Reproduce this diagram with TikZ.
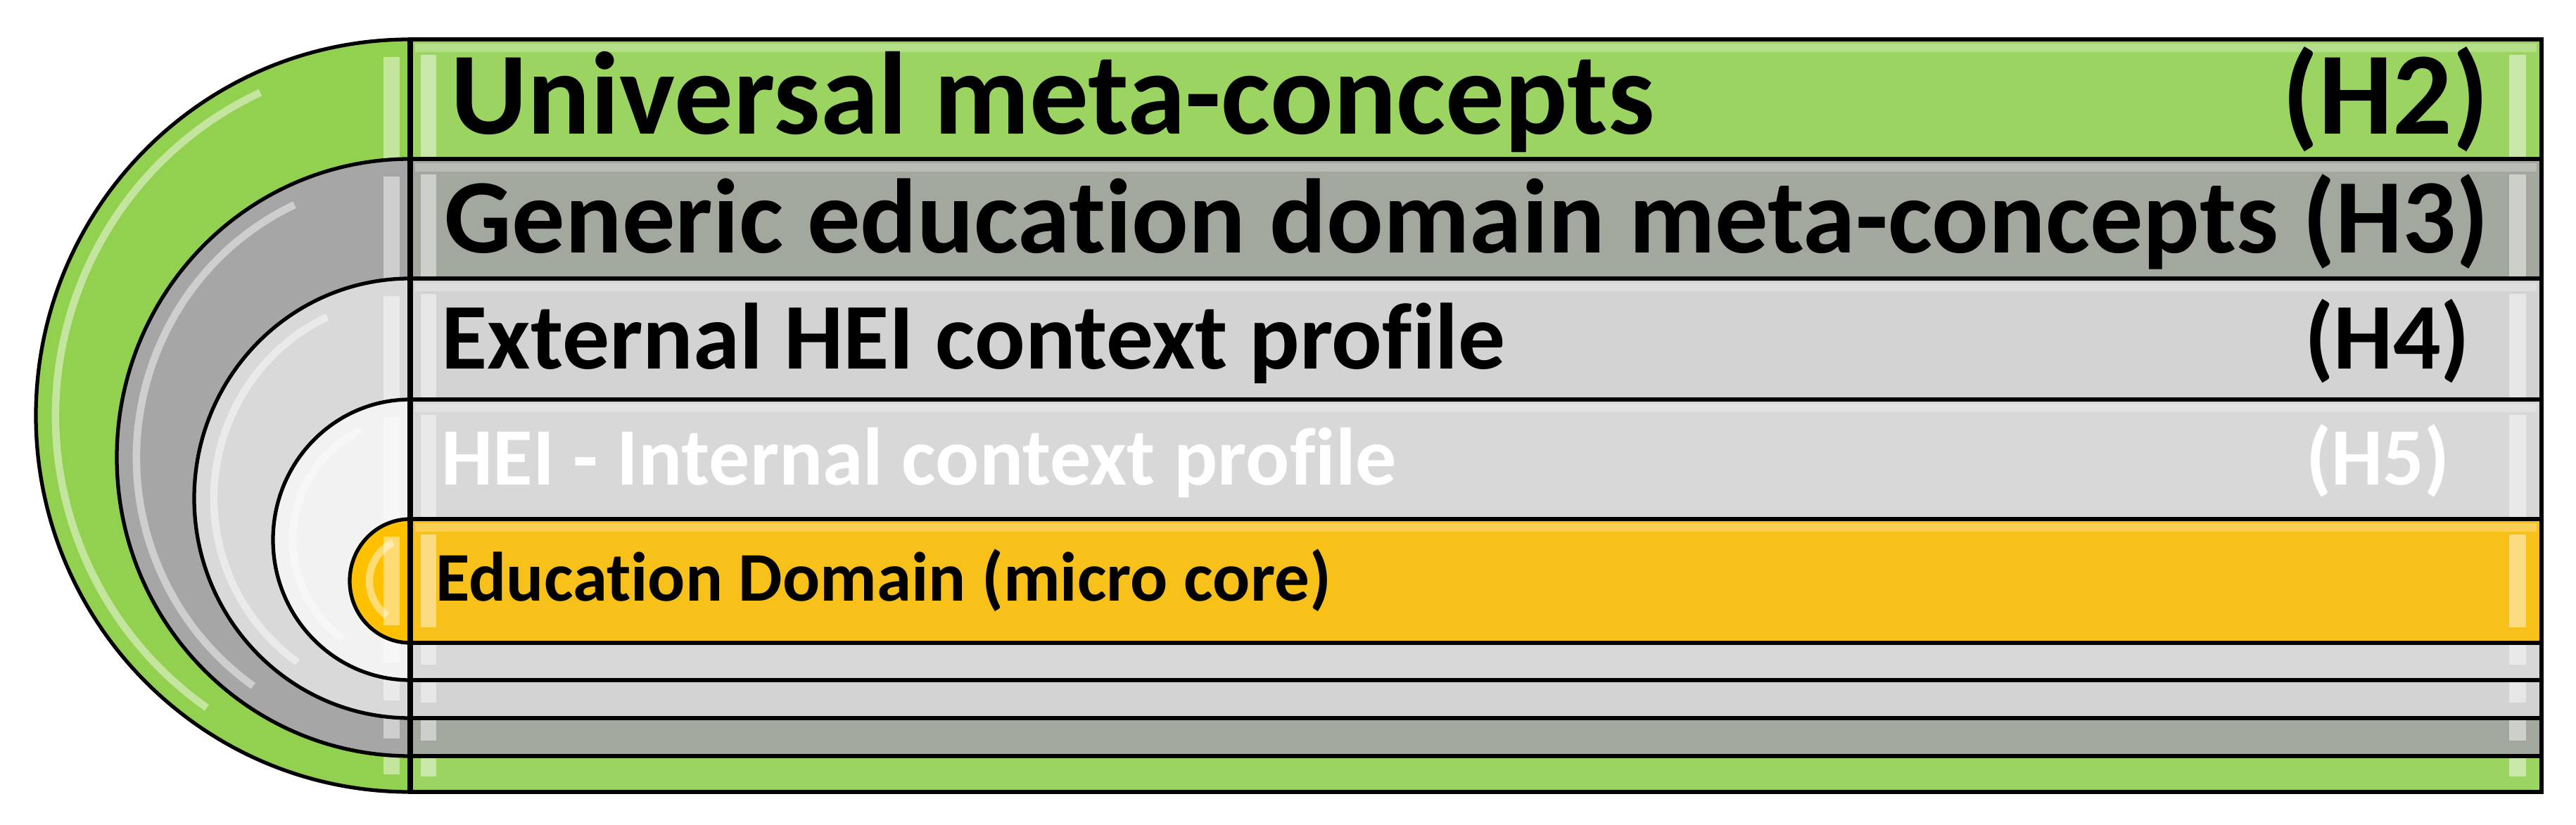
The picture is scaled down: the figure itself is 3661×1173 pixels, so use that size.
\documentclass[tikz,border=0pt]{standalone}
\usepackage{fontspec}
\setmainfont[RawFeature=-liga]{Carlito}

\definecolor{greenL}{HTML}{92D050}
\definecolor{greenR}{HTML}{9CD462}
\definecolor{grayL}{HTML}{A6A6A6}
\definecolor{grayR}{HTML}{A3A89F}
\definecolor{silverL}{HTML}{D9D9D9}
\definecolor{silverR}{HTML}{D3D3D3}
\definecolor{paleL}{HTML}{F2F2F2}
\definecolor{paleR}{HTML}{D8D8D8}
\definecolor{goldL}{HTML}{FFC000}
\definecolor{goldR}{HTML}{F8C11A}

\begin{document}
\begin{tikzpicture}[x=0.01cm, y=0.01cm,
    ring/.style={draw=black, line width=1.5pt},
    gloss/.style={white, opacity=.45},
    lvltext/.style={inner sep=0pt, font=\bfseries\fontsize{#1}{#1}\selectfont}]
\useasboundingbox (0,0) rectangle (3661,1173);
% nested levels: top / bottom / left radius / left colour / right colour
\foreach \ya/\yb/\rx/\cl/\cr in {1117/47/532/greenL/greenR, 947/98/417/grayL/grayR,
    777/152/307/silverL/silverR, 605/206/195/paleL/paleR, 435/259/86/goldL/goldR}{
  \pgfmathsetmacro\ry{(\ya-\yb)/2}
  \pgfmathsetmacro\yc{(\ya+\yb)/2}
  \begin{scope}
    \clip (583,\ya) arc[start angle=90, end angle=270, x radius=\rx, y radius=\ry] -- cycle;
    \fill[\cl] (0,\yb) rectangle (583,\ya);
    \draw[gloss, line width=3pt] ([shift={(583,\yc)}]115:{\rx-28} and {\ry-28})
      arc[start angle=115, end angle=235, x radius=\rx-28, y radius=\ry-28];
    \fill[gloss] (545,\yb+25) rectangle (568,\ya-25);
  \end{scope}
  \draw[ring] (583,\ya) arc[start angle=90, end angle=270, x radius=\rx, y radius=\ry];
  \fill[\cr] (583,\yb) rectangle (3612,\ya);
  \fill[gloss] (598,\yb+22) rectangle (620,\ya-22);
  \fill[gloss] (3566,\yb+22) rectangle (3590,\ya-22);
  \fill[white, opacity=.25] (590,\ya-18) rectangle (3605,\ya-6);
  \draw[ring] (583,\yb) rectangle (3612,\ya);
}
\draw[line width=2pt] (583,47) -- (583,1117);
% level texts
\node[lvltext=47.5, anchor=base west] (universal) at (640,982) {Universal meta-concepts};
\node[lvltext=47.5, anchor=base east] (h2) at (3538,982) {(H2)};
\node[lvltext=42.8, anchor=base west] (generic) at (631,813) {Generic education domain meta-concepts (H3)};
\node[lvltext=38, anchor=base west] (external) at (627,648) {External HEI context profile};
\node[lvltext=38, anchor=base east] (h4) at (3511,648) {(H4)};
\node[lvltext=33, anchor=base west, white] (internal) at (627,483) {HEI - Internal context profile};
\node[lvltext=33, anchor=base east, white] (h5) at (3482,483) {(H5)};
\node[lvltext=28.2, anchor=base west] (core) at (619,318) {Education Domain (micro core)};
\end{tikzpicture}
\end{document}
